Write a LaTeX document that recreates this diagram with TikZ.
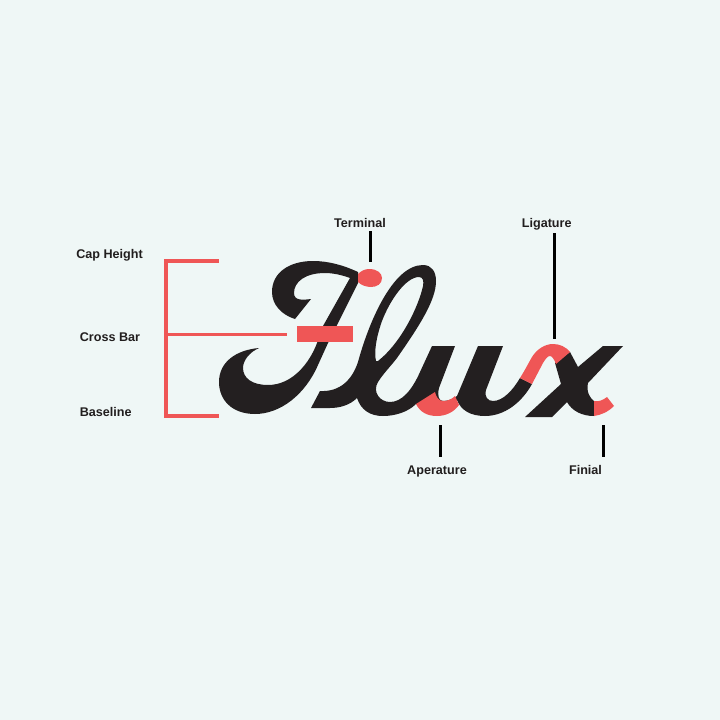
\documentclass[tikz,border=0pt]{standalone}
\usepackage{fontspec}
\setmainfont{Liberation Sans}
\usetikzlibrary{positioning}
\definecolor{paper}{RGB}{239,247,246}
\definecolor{inkblack}{RGB}{35,31,32}
\definecolor{markred}{RGB}{239,86,86}
\tikzset{
  partlabel/.style={text=inkblack!95!black,font=\fontsize{12.6}{14}\bfseries\selectfont,inner sep=0pt,anchor=base},
  leader/.style={draw=black,line width=3pt},
  bracket/.style={draw=markred,line width=3.4pt},
}

\begin{document}
\begin{tikzpicture}[x=1pt,y=-1pt]
    % Background
    \fill[paper] (0,0) rectangle (720,720);
    \useasboundingbox (0,0) rectangle (720,720);

    % Letter F
    \fill[inkblack] (358,272) .. controls (343,265) and (328,261) .. (313,261)
      .. controls (290,261) and (272,272) .. (272,292)
      .. controls (272,305) and (282,315) .. (295,319) -- (311,299)
      .. controls (303,300) and (294,301) .. (294,293)
      .. controls (294,282) and (305,273) .. (325,273)
      .. controls (333,273) and (342,275) .. (350,278) -- (323,326) -- (317,343)
      .. controls (310,362) and (293,385) .. (268,385)
      .. controls (252,385) and (243,378) .. (243,368)
      .. controls (243,360) and (250,352) .. (259,348)
      .. controls (236,350) and (219,362) .. (219,382)
      .. controls (219,400) and (232,414) .. (255,414)
      .. controls (280,414) and (305,395) .. (318,365)
      -- (328,343) -- (358,283) -- cycle;

    % Letters l and u
    \fill[inkblack,even odd rule] (311,408) -- (320,391)
      .. controls (340,392) and (352,380) .. (358,362)
      .. controls (368,325) and (392,265) .. (423,265)
      .. controls (432,265) and (436,272) .. (436,281)
      .. controls (436,300) and (420,325) .. (397,358)
      .. controls (390,367) and (383,374) .. (378,382)
      .. controls (372,392) and (380,402) .. (390,402)
      .. controls (402,402) and (412,390) .. (420,372)
      -- (432,346) -- (455,346) -- (439,388)
      .. controls (437,396) and (439,401) .. (443,401)
      .. controls (448,401) and (453,399) .. (457,396)
      -- (478,346) -- (503,346) -- (486,390)
      .. controls (484,397) and (488,401) .. (493,401)
      .. controls (503,401) and (513,390) .. (520,378) -- (532,384)
      .. controls (522,402) and (505,416) .. (485,416)
      .. controls (470,416) and (461,410) .. (457,400)
      -- (440,405) -- (416,404)
      .. controls (408,412) and (395,416) .. (383,416)
      .. controls (370,416) and (361,410) .. (357,398)
      .. controls (350,405) and (340,408) .. (330,408) -- cycle
      (376,361) .. controls (374,352) and (376,338) .. (382,321)
      .. controls (390,300) and (406,277) .. (419,277)
      .. controls (423,277) and (424,281) .. (423,286)
      .. controls (419,305) and (402,342) .. (378,361) -- cycle;

    % Letter x
    \fill[inkblack] (555,363) -- (570,352) -- (578,367) -- (603,346) -- (623,346)
      -- (588,383) .. controls (586,392) and (590,398) .. (594,401) -- (594,416)
      .. controls (582,416) and (572,411) .. (567,402) -- (552,417) -- (525,417)
      -- (561,384) -- cycle;

    % Marked parts of the letters
    \fill[markred] (358,274) .. controls (361,271) and (365,269) .. (369,269)
      .. controls (377,269) and (382,273) .. (382,278)
      .. controls (382,284) and (377,287) .. (371,287)
      .. controls (366,287) and (361,285) .. (358,282) -- cycle;
    \fill[markred] (296.5,326) rectangle (353,342);
    \fill[markred] (416,404) -- (435,392) .. controls (436,397) and (439,401) .. (443,401)
      .. controls (448,401) and (452,399) .. (455,396) -- (459,405)
      .. controls (454,412) and (446,416) .. (437,416)
      .. controls (427,416) and (420,412) .. (416,404) -- cycle;
    \fill[markred] (520,378) .. controls (525,370) and (528,364) .. (532,357)
      .. controls (537,349) and (545,344) .. (553,344)
      .. controls (560,344) and (566,347) .. (570,352) -- (556,364)
      .. controls (554,359) and (552,356) .. (550,356)
      .. controls (547,356) and (545,360) .. (543,363) -- (532,384) -- cycle;
    \fill[markred] (594,401) .. controls (599,402) and (603,400) .. (607,397) -- (614,406)
      .. controls (608,412) and (601,415) .. (594,416) -- cycle;

    % Red bracket
    \coordinate (captop) at (217.3,261);
    \coordinate (capcorner) at (166,261);
    \coordinate (basecorner) at (166,416);
    \coordinate (baseend) at (217.3,416);
    \coordinate (barstart) at (166,334);
    \coordinate (barend) at (287,334);
    \draw[bracket,line cap=rect,line join=miter] (captop) -- (capcorner) -- (basecorner) -- (baseend);
    \draw[draw=markred,line width=3pt] (barstart) -- (barend);

    % Labels
    \node[partlabel] (capheight) at (109.5,258.3) {Cap Height};
    \node[partlabel] (crossbar) at (110,341.7) {Cross Bar};
    \node[partlabel] (baseline) at (105.7,416) {Baseline};
    \node[partlabel] (terminal) at (360,227) {Terminal};
    \node[partlabel] (ligature) at (546.7,227) {Ligature};
    \node[partlabel] (aperature) at (437,474) {Aperature};
    \node[partlabel] (finial) at (585.5,474) {Finial};

    % Black leaders
    \coordinate (terminaltop) at (370.7,231);
    \coordinate (terminalend) at (370.7,262);
    \coordinate (ligaturetop) at (554.3,233);
    \coordinate (ligatureend) at (554.3,339);
    \coordinate (aperaturetop) at (440.7,425);
    \coordinate (aperatureend) at (440.7,457);
    \coordinate (finialtop) at (603,425);
    \coordinate (finialend) at (603,457);
    \draw[leader] (terminaltop) -- (terminalend);
    \draw[leader] (ligaturetop) -- (ligatureend);
    \draw[leader] (aperaturetop) -- (aperatureend);
    \draw[leader] (finialtop) -- (finialend);
\end{tikzpicture}
\end{document}
